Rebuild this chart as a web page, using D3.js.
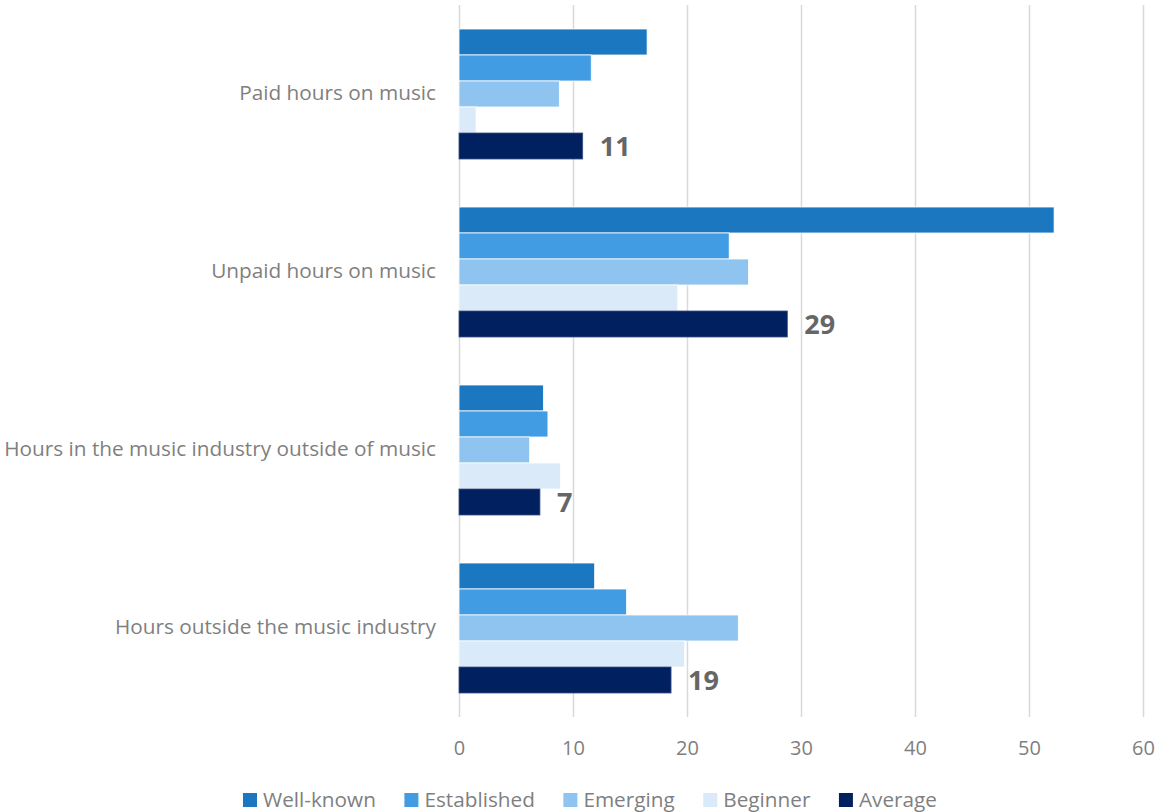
<!DOCTYPE html>
<html><head><meta charset="utf-8">
<script src="https://cdn.jsdelivr.net/npm/d3@7"></script>
<style>
html,body{margin:0;padding:0;background:#fff;}
svg{display:block;font-family:"Open Sans",sans-serif;}
</style></head>
<body>
<svg id="chart" width="1158" height="812"></svg>
<script>
const categories = ["Paid hours on music","Unpaid hours on music","Hours in the music industry outside of music","Hours outside the music industry"];
const seriesNames = ["Well-known","Established","Emerging","Beginner","Average"];
const wellKnown   = [16.5, 52.2, 7.4, 11.9];
const established = [11.6, 23.7, 7.8, 14.7];
const emerging    = [8.8, 25.4, 6.2, 24.5];
const beginner    = [1.5, 19.2, 8.9, 19.8];
const average     = [10.85, 28.8, 7.1, 18.6];
const xTicks = [0,10,20,30,40,50,60];
const colors = ["#1b77c0","#419ce3","#8ec4ef","#daeaf9","#012060"];

const seriesValues = [wellKnown, established, emerging, beginner, average];
const svg = d3.select("#chart");

const x = d3.scaleLinear().domain([0,60]).range([459,1143]);
const y = d3.scaleBand().domain(categories).range([5,717]).padding(0);
const yInner = d3.scaleBand().domain(seriesNames).range([0,y.bandwidth()]).paddingInner(0).paddingOuter(0.923);
const color = d3.scaleOrdinal().domain(seriesNames).range(colors);

// gridlines + ticks
const axis = d3.axisBottom(x).tickValues(xTicks).tickSize(-(717-5)).tickFormat(d3.format("d"));
const gAxis = svg.append("g").attr("transform","translate(0,717)").call(axis);
gAxis.select(".domain").remove();
gAxis.selectAll(".tick line").attr("stroke","#d9d9d9").attr("stroke-width",1.5);
gAxis.selectAll(".tick text").attr("y",31).attr("dy","0.35em").attr("fill","#7f7f7f")
  .style("font-size","20px").style("font-family","'Open Sans',sans-serif");

// bars
const rows = [];
categories.forEach((c,i)=>seriesNames.forEach((s,j)=>rows.push({cat:c, series:s, value:seriesValues[j][i]})));
svg.append("g").selectAll("rect").data(rows).join("rect")
  .attr("x", x(0))
  .attr("y", d=>y(d.cat)+yInner(d.series))
  .attr("width", d=>x(d.value)-x(0))
  .attr("height", yInner.bandwidth())
  .attr("fill", d=>color(d.series))
  .attr("stroke", d=>d.series==="Average" ? "#3b4f82" : "#ffffff")
  .attr("stroke-width", 0.8);

// average value labels
svg.append("g").selectAll("text").data(rows.filter(d=>d.series==="Average")).join("text")
  .attr("x", d=>x(d.value)+17)
  .attr("y", d=>y(d.cat)+yInner(d.series)+yInner.bandwidth()/2)
  .attr("dy","0.36em")
  .attr("fill","#666666")
  .style("font-size","27px").style("font-weight","bold")
  .text(d=>d3.format(".0f")(d.value));

// category labels
const catG = svg.append("g");
const catTexts = catG.selectAll("text").data(categories).join("text")
  .attr("x", 436)
  .attr("y", d=>y(d)+y.bandwidth()/2 - 1)
  .attr("dy","0.35em")
  .attr("text-anchor","end")
  .attr("fill","#7f7f7f")
  .style("font-size","20px")
  .text(d=>d);
let maxW = 0;
catTexts.each(function(){ maxW = Math.max(maxW, this.getComputedTextLength()); });
const catSize = 20*432/maxW;
catTexts.style("font-size", catSize+"px");

// legend
const legend = svg.append("g");
const items = legend.selectAll("g").data(seriesNames).join("g");
items.append("rect").attr("width",14).attr("height",14).attr("y",793).attr("fill",d=>color(d));
const lt = items.append("text").attr("x",20).attr("y",800).attr("dy","0.35em")
  .attr("fill","#7f7f7f").style("font-size","20px").text(d=>d);
let wk = lt.filter(d=>d==="Well-known").node().getComputedTextLength();
const legSize = 20*113/wk;
lt.style("font-size", legSize+"px");
const widths = [];
lt.each(function(){ widths.push(this.getComputedTextLength()); });
const legLeft = 243, legRight = 937;
const gap = (legRight - legLeft - d3.sum(widths.map(w=>20+w)))/(widths.length-1);
let cx = legLeft;
items.each(function(d,i){ d3.select(this).attr("transform",`translate(${cx},0)`); cx += 20+widths[i]+gap; });
</script>
</body></html>
